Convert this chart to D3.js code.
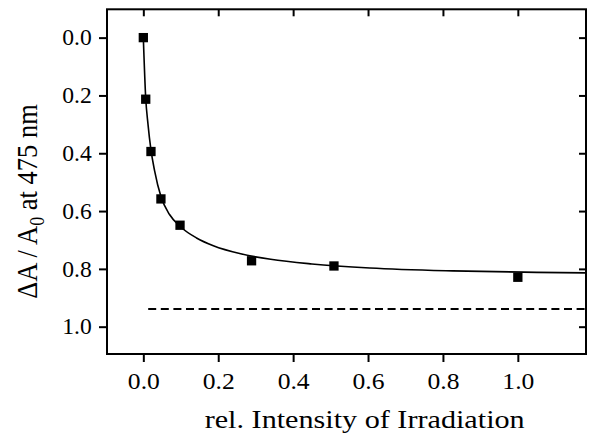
<!DOCTYPE html>
<html>
<head>
<meta charset="utf-8">
<script src="https://cdn.jsdelivr.net/npm/d3@7"></script>
<style>
  body { margin: 0; background: #fff; }
  svg text { font-family: "Liberation Serif", "Times New Roman", serif; fill: #000; }
</style>
</head>
<body>
<figure id="chart" style="margin:0"></figure>
<script>
// measured points
const intensity = [0, 0.0064, 0.0204, 0.047, 0.098, 0.289, 0.509, 1.0];
const deltaA = [0.0, 0.213, 0.394, 0.558, 0.649, 0.772, 0.790, 0.829];

// fitted curve
const fitX = [0, 0.0064, 0.0125, 0.02, 0.03, 0.047, 0.07, 0.1, 0.142, 0.187, 0.26, 0.34, 0.45, 0.605, 0.826, 1.05, 1.18];
const fitY = [0, 0.21, 0.30, 0.385, 0.46, 0.55, 0.612, 0.655, 0.693, 0.72, 0.748, 0.767, 0.783, 0.797, 0.807, 0.812, 0.814];

// dashed reference level
const refX = [0.013, 1.182];
const refY = [0.939, 0.939];

const xTicks = [0, 0.2, 0.4, 0.6, 0.8, 1.0];
const yTicks = [0, 0.2, 0.4, 0.6, 0.8, 1.0];

const xTitle = "rel. Intensity of Irradiation";

const width = 590, height = 439;
const frame = { left: 107, right: 586, top: 9.3, bottom: 354 };
const stretch = 1.14; // glyphs in the picture are a bit wider than Times

const svg = d3.select("#chart").append("svg")
  .attr("width", width)
  .attr("height", height);

const x = d3.scaleLinear().domain([-0.097, 1.182]).range([frame.left, frame.right]);
const y = d3.scaleLinear().domain([-0.098, 1.0945]).range([frame.top, frame.bottom]);
const fmt = d3.format(".1f");

// bottom axis (outward ticks, labels)
const gx = svg.append("g")
  .attr("transform", "translate(0," + frame.bottom + ")")
  .call(d3.axisBottom(x).tickValues(xTicks).tickFormat(fmt).tickSizeInner(8).tickSizeOuter(0).tickPadding(11));
// left axis
const gy = svg.append("g")
  .attr("transform", "translate(" + frame.left + ",0)")
  .call(d3.axisLeft(y).tickValues(yTicks).tickFormat(fmt).tickSizeInner(8).tickSizeOuter(0).tickPadding(7));
// top and right, inward ticks only
const gt = svg.append("g")
  .attr("transform", "translate(0," + frame.top + ")")
  .call(d3.axisBottom(x).tickValues(xTicks).tickFormat("").tickSizeInner(7).tickSizeOuter(0));
const gr = svg.append("g")
  .attr("transform", "translate(" + frame.right + ",0)")
  .call(d3.axisLeft(y).tickValues(yTicks).tickFormat("").tickSizeInner(7).tickSizeOuter(0));

[gx, gy, gt, gr].forEach(g => {
  g.select(".domain").remove();
  g.selectAll(".tick line").attr("stroke", "#000").attr("stroke-width", 2);
});

gx.selectAll(".tick text")
  .attr("font-size", 22.5)
  .attr("textLength", 32)
  .attr("lengthAdjust", "spacingAndGlyphs");
gy.selectAll(".tick text")
  .attr("font-size", 22.5)
  .attr("x", -15.3)
  .attr("textLength", 29.5)
  .attr("lengthAdjust", "spacingAndGlyphs");

// frame
svg.append("rect")
  .attr("x", frame.left)
  .attr("y", frame.top)
  .attr("width", frame.right - frame.left)
  .attr("height", frame.bottom - frame.top)
  .attr("fill", "none")
  .attr("stroke", "#000")
  .attr("stroke-width", 2);

// dashed line
svg.append("path")
  .datum(d3.zip(refX, refY))
  .attr("d", d3.line().x(d => x(d[0])).y(d => y(d[1])))
  .attr("fill", "none")
  .attr("stroke", "#000")
  .attr("stroke-width", 2)
  .attr("stroke-dasharray", "8,4.6");

// fit curve
svg.append("path")
  .datum(d3.zip(fitX, fitY))
  .attr("d", d3.line().curve(d3.curveMonotoneX).x(d => x(d[0])).y(d => y(d[1])))
  .attr("fill", "none")
  .attr("stroke", "#000")
  .attr("stroke-width", 1.6);

// squares
const s = 9.3;
svg.append("g").selectAll("rect")
  .data(d3.zip(intensity, deltaA))
  .enter()
  .append("rect")
  .attr("x", d => x(d[0]) - s / 2)
  .attr("y", d => y(d[1]) - s / 2)
  .attr("width", s)
  .attr("height", s)
  .attr("fill", "#000");

// x title
svg.append("text")
  .attr("x", 364.7)
  .attr("y", 428.3)
  .attr("text-anchor", "middle")
  .attr("font-size", 26)
  .attr("textLength", 320)
  .attr("lengthAdjust", "spacingAndGlyphs")
  .text(xTitle);

// y title with subscript
const yt = svg.append("text")
  .attr("transform", "translate(36.7,201.5) scale(" + stretch + ",1) rotate(-90)")
  .attr("text-anchor", "middle")
  .attr("font-size", 26.5);
yt.append("tspan").text("\u0394A / A");
yt.append("tspan").attr("font-size", 18).attr("dy", 6).text("0");
yt.append("tspan").attr("dy", -6).text(" at 475 nm");
</script>
</body>
</html>
